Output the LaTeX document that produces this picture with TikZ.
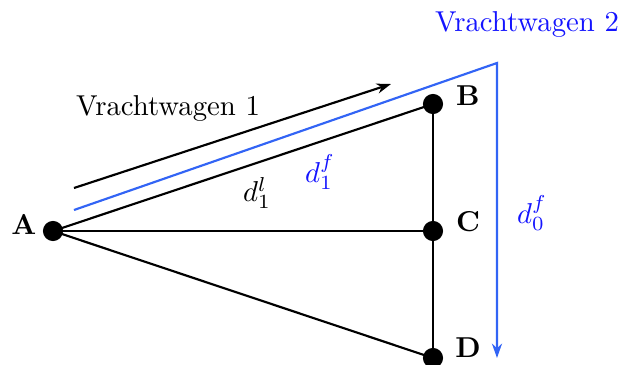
\documentclass[tikz,border=0pt]{standalone}
\usetikzlibrary{arrows.meta}
\definecolor{lineblue}{RGB}{50,100,245}
\definecolor{textblue}{RGB}{20,20,255}
\begin{document}
\begin{tikzpicture}[x=0.3476pt,y=-0.3476pt,
  dot/.style={circle,fill=black,inner sep=0pt,minimum size=7pt},
  edge/.style={line width=0.75pt,black},
  blueline/.style={line width=0.75pt,lineblue},
  lbl/.style={font=\bfseries},
  bluetext/.style={text=textblue}]
\useasboundingbox (0,0) rectangle (625,365);
\node[dot] (A) at (53,231) {};
\node[dot] (B) at (433,104) {};
\node[dot] (C) at (433,231) {};
\node[dot] (D) at (433,358) {};
\node[lbl] (lA) at (24,224) {A};
\node[lbl] (lB) at (468,96) {B};
\node[lbl] (lC) at (468,222) {C};
\node[lbl] (lD) at (468,348) {D};
\draw[edge] (A.center) -- (B.center);
\draw[edge] (A.center) -- (C.center);
\draw[edge] (A.center) -- (D.center);
\draw[edge] (B.center) -- (C.center) -- (D.center);
\coordinate (t1s) at (74,188);
\coordinate (t1e) at (391,84);
\draw[edge,-{Stealth[length=5pt,width=3.5pt]}] (t1s) -- (t1e);
\coordinate (t2s) at (74,210);
\coordinate (t2c) at (497,63);
\coordinate (t2e) at (497,358);
\draw[blueline,-{Stealth[length=5pt,width=3.5pt]}] (t2s) -- (t2c) -- (t2e);
\node (v1) at (168,108) {Vrachtwagen 1};
\node[bluetext] (v2) at (527,24) {Vrachtwagen 2};
\node (dl) at (257,193) {$d_1^l$};
\node[bluetext] (df1) at (320,172) {$d_1^f$};
\node[bluetext] (df0) at (532,213) {$d_0^f$};
\end{tikzpicture}
\end{document}
